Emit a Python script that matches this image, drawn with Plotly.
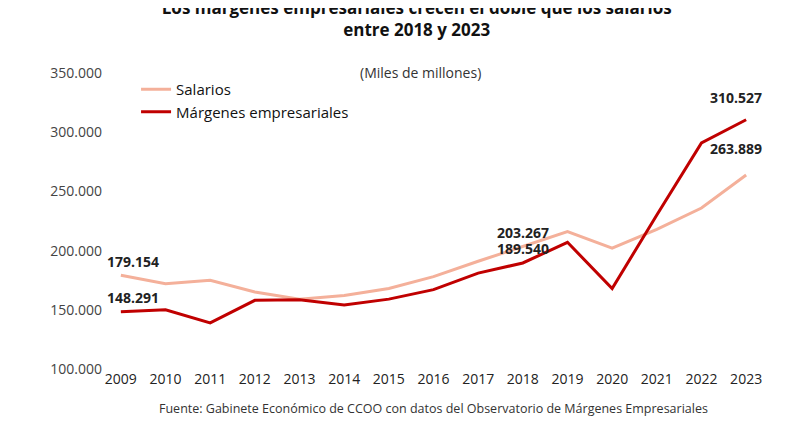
import plotly.graph_objects as go

years = list(range(2009, 2024))
salarios = [179154, 172000, 175000, 165000, 159000, 162000, 168000, 178000,
            191000, 203267, 216000, 202000, 218000, 236000, 263889]
margenes = [148291, 150000, 139000, 158000, 158500, 154000, 159000, 167000,
            181000, 189540, 207000, 168000, 230000, 291000, 310527]

fig = go.Figure()
fig.add_trace(go.Scatter(x=years, y=salarios, name="Salarios", mode="lines",
                         line=dict(color="#F4B09A", width=3)))
fig.add_trace(go.Scatter(x=years, y=margenes, name="Márgenes empresariales", mode="lines",
                         line=dict(color="#C00000", width=3)))

# (year, value, yshift, xshift)
labels = [(2009, 179154, 14, 12), (2009, 148291, 14, 12),
          (2018, 203267, 14, 0), (2018, 189540, 14, 0),
          (2023, 310527, 22, -10), (2023, 263889, 26, -10)]
for x, y, ys, xs in labels:
    fig.add_annotation(x=x, y=y, text="<b>" + f"{y:,}".replace(",", ".") + "</b>",
                       showarrow=False, yshift=ys, xshift=xs, font=dict(size=14, color="#222"))

fig.update_layout(
    width=786, height=421,
    margin=dict(l=95, r=30, t=65, b=60),
    paper_bgcolor="white", plot_bgcolor="white",
    font=dict(family="Open Sans", size=14, color="#333"),
    separators=",.",
    title=dict(text="<b>Los márgenes empresariales crecen el doble que los salarios<br>entre 2018 y 2023</b>",
               x=0.52, xanchor="center", y=0.985, yanchor="top", font=dict(size=17, color="#111")),
    legend=dict(x=0.05, y=1.0, xanchor="left", yanchor="top", bgcolor="rgba(0,0,0,0)",
                font=dict(size=15, color="#111")),
    xaxis=dict(range=[2008.6, 2023.4], dtick=1, showgrid=False, showline=False, ticks="",
               zeroline=False, tickfont=dict(size=14, color="#222")),
    yaxis=dict(range=[100000, 350000], tickvals=[100000, 150000, 200000, 250000, 300000, 350000],
               tickformat=",.0f", showgrid=False, zeroline=False, showline=False,
               tickfont=dict(size=14, color="#444")),
)
fig.add_annotation(text="(Miles de millones)", xref="paper", yref="paper", x=0.48, y=1.04,
                   showarrow=False, font=dict(size=14, color="#333"))
fig.add_annotation(text="Fuente: Gabinete Económico de CCOO con datos del Observatorio de Márgenes Empresariales",
                   xref="paper", yref="paper", x=0.5, y=-0.17, showarrow=False,
                   font=dict(size=12.5, color="#333"))

fig.write_html("out.html")
